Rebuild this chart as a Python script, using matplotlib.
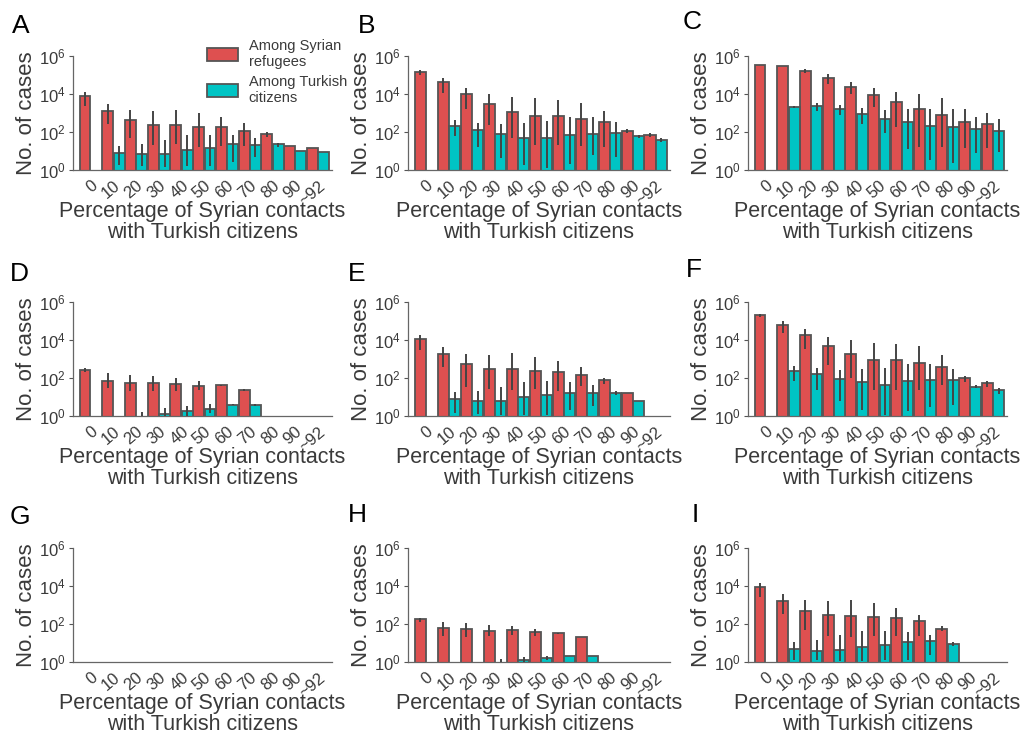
import numpy as np
import matplotlib
matplotlib.use("Agg")
import matplotlib.pyplot as plt
from matplotlib.patches import Patch

plt.rcParams['font.family'] = ['Liberation Sans', 'DejaVu Sans']
plt.rcParams['mathtext.fontset'] = 'custom'
plt.rcParams['mathtext.rm'] = 'Liberation Sans'
plt.rcParams['mathtext.it'] = 'Liberation Sans'

nan = np.nan
categories = ['0', '10', '20', '30', '40', '50', '60', '70', '80', '90', '~92']
series_names = ['Among Syrian\nrefugees', 'Among Turkish\ncitizens']
panel_letters = ['A', 'B', 'C', 'D', 'E', 'F', 'G', 'H', 'I']

# ---- Panel A ----
A_red = [7600, 1300, 410, 230, 240, 190, 190, 110, 74, 19, 14]
A_red_lo = [2240, 263, 48, 21, 24, 17, 19, 19, 54, nan, nan]
A_red_hi = [12300, 3000, 1500, 1300, 1500, 1000, 620, 300, 95, nan, nan]
A_teal = [nan, 7.6, 6.7, 7, 11.5, 14.5, 22, 21, 23, 10, 8.7]
A_teal_lo = [nan, 1.8, 1.6, 1.5, 1.6, 1.6, 2.8, 5.1, 17, nan, nan]
A_teal_hi = [nan, 19, 24, 39, 66, 71, 66, 49, 28, nan, nan]

# ---- Panel B ----
B_red = [1.4e5, 4.2e4, 1.05e4, 3000, 1180, 690, 670, 500, 330, 115, 71]
B_red_lo = [9.5e4, 1.15e4, 1700, 220, 51, 21, 21, 19, 17, 87, 54]
B_red_hi = [1.8e5, 7.1e4, 2.1e4, 1e4, 6800, 5800, 5100, 3400, 1300, 150, 87]
B_teal = [nan, 214, 132, 74, 51, 48, 71, 77, 84, 58, 39]
B_teal_lo = [nan, 58, 17, 4.5, 1.8, 1.2, 2.1, 6.2, 4.7, 46, 29]
B_teal_hi = [nan, 410, 300, 260, 300, 360, 590, 590, 320, 71, 48]

# ---- Panel C ----
C_red = [3.5e5, 3.0e5, 1.7e5, 6.6e4, 2.4e4, 8500, 3800, 1550, 750, 350, 263]
C_red_lo = [nan, nan, 1.25e5, 3.4e4, 9500, 2000, 190, 17, 17, 15, 15]
C_red_hi = [nan, nan, 2.1e5, 1.1e5, 4.1e4, 2e4, 1.3e4, 9500, 5900, 1600, 950]
C_teal = [nan, 2150, 2330, 1630, 850, 500, 325, 208, 177, 138, 117]
C_teal_lo = [nan, 1900, 1300, 780, 250, 85, 12, 3.4, 2.2, 7.6, 9.1]
C_teal_hi = [nan, 2450, 3200, 2600, 1800, 1450, 1550, 1550, 1550, 650, 480]

# ---- Panel D ----
D_red = [270, 73, 53, 53, 47, 38, 42, 23, nan, nan, nan]
D_red_lo = [195, 29, 19.5, 19.5, 19.5, 22, 39, 20, nan, nan, nan]
D_red_hi = [330, 180, 150, 120, 98, 71, 45, 26, nan, nan, nan]
D_teal = [nan, nan, 0.5, 1.28, 1.8, 2.4, 4.0, 3.7, nan, nan, nan]
D_teal_lo = [nan, nan, 0.3, 0.5, 0.5, 1.4, 3.7, 3.3, nan, nan, nan]
D_teal_hi = [nan, nan, 1.7, 2.5, 3.5, 4.2, 4.3, 4.1, nan, nan, nan]

# ---- Panel E ----
E_red = [1.1e4, 1900, 560, 316, 305, 240, 210, 140, 76, 16, nan]
E_red_lo = [3100, 370, 35, 26, 22, 26, 19.5, 38, 49, nan, nan]
E_red_hi = [1.9e4, 4300, 1900, 1550, 2000, 1350, 800, 370, 98, nan, nan]
E_teal = [nan, 7.6, 5.9, 6.2, 10.5, 12.3, 17, 17, 16, 6.2, nan]
E_teal_lo = [nan, 1.5, 1.26, 1.1, 1.1, 1.1, 2.1, 3.5, 12, nan, nan]
E_teal_hi = [nan, 18, 21, 35, 60, 71, 60, 44, 20, nan, nan]

# ---- Panel F ----
F_red = [2.0e5, 6.4e4, 1.8e4, 5000, 1900, 910, 910, 600, 400, 98, 53]
F_red_lo = [1.55e5, 2.3e4, 3300, 460, 98, 22, 23, 22, 44, 65, 35]
F_red_hi = [2.35e5, 1.05e5, 3.8e4, 1.4e4, 9500, 6900, 6200, 4600, 1650, 130, 71]
F_teal = [nan, 245, 160, 87, 58, 43, 68, 76, 74, 35, 22]
F_teal_lo = [nan, 71, 23, 5.8, 2.1, 1.1, 1.8, 3.1, 3.8, 29, 14.5]
F_teal_hi = [nan, 440, 330, 270, 300, 330, 540, 560, 300, 44, 29]

# ---- Panel G (empty) ----
G_red = [nan] * 11
G_red_lo = [nan] * 11
G_red_hi = [nan] * 11
G_teal = [nan] * 11
G_teal_lo = [nan] * 11
G_teal_hi = [nan] * 11

# ---- Panel H ----
H_red = [178, 58, 53, 44, 47, 37, 32, 19.5, nan, nan, nan]
H_red_lo = [135, 22, 19.5, 22, 27, 22, 30, nan, nan, nan, nan]
H_red_hi = [219, 123, 110, 89, 74, 54, 34, nan, nan, nan, nan]
H_teal = [nan, nan, nan, 0.5, 1.22, 1.6, 2.1, 2.05, nan, nan, nan]
H_teal_lo = [nan, nan, nan, 0.3, 1.0, 1.2, nan, nan, nan, nan, nan]
H_teal_hi = [nan, nan, nan, 1.4, 1.75, 2.1, nan, nan, nan, nan, nan]

# ---- Panel I ----
I_red = [8800, 1560, 510, 290, 277, 227, 218, 140, 56, nan, nan]
I_red_lo = [2750, 320, 46, 22, 19.5, 22, 22, 22, 41, nan, nan]
I_red_hi = [1.4e4, 3600, 1800, 1600, 1800, 1250, 720, 300, 74, nan, nan]
I_teal = [nan, 4.6, 3.8, 4.1, 6.1, 8.1, 11.6, 12.6, 9.1, nan, nan]
I_teal_lo = [nan, 1.3, 1.3, 1.07, 1.07, 1.3, 1.3, 2.4, 6.6, nan, nan]
I_teal_hi = [nan, 10.7, 15, 25, 41, 41, 37, 25, 11.2, nan, nan]

panels = [
    (A_red, A_red_lo, A_red_hi, A_teal, A_teal_lo, A_teal_hi),
    (B_red, B_red_lo, B_red_hi, B_teal, B_teal_lo, B_teal_hi),
    (C_red, C_red_lo, C_red_hi, C_teal, C_teal_lo, C_teal_hi),
    (D_red, D_red_lo, D_red_hi, D_teal, D_teal_lo, D_teal_hi),
    (E_red, E_red_lo, E_red_hi, E_teal, E_teal_lo, E_teal_hi),
    (F_red, F_red_lo, F_red_hi, F_teal, F_teal_lo, F_teal_hi),
    (G_red, G_red_lo, G_red_hi, G_teal, G_teal_lo, G_teal_hi),
    (H_red, H_red_lo, H_red_hi, H_teal, H_teal_lo, H_teal_hi),
    (I_red, I_red_lo, I_red_hi, I_teal, I_teal_lo, I_teal_hi),
]

RED = '#DE5050'
TEAL = '#00C4C4'
EDGE = '#555555'
TXT = '#3a3a3a'

W, H = 1033, 740
fig = plt.figure(figsize=(W / 100, H / 100), dpi=100)

col_lr = [(73, 332), (408, 670), (748, 1007)]
row_tb = [(56, 170), (302, 416), (548, 662)]
letter_pos = [(12, 14), (358, 14), (683, 10), (10, 262), (348, 262), (686, 258),
              (10, 505), (348, 503), (692, 503)]

x = np.arange(len(categories))
bw = 0.48

for i, (red, rlo, rhi, teal, tlo, thi) in enumerate(panels):
    r, c = divmod(i, 3)
    l, rr = col_lr[c]
    t, b = row_tb[r]
    ax = fig.add_axes([l / W, 1 - b / H, (rr - l) / W, (b - t) / H])
    red = np.array(red, float); teal = np.array(teal, float)
    rlo = np.array(rlo, float); rhi = np.array(rhi, float)
    tlo = np.array(tlo, float); thi = np.array(thi, float)
    for vals, lo, hi, off, colr in [(red, rlo, rhi, -0.25, RED), (teal, tlo, thi, 0.25, TEAL)]:
        m = ~np.isnan(vals)
        if m.any():
            ax.bar(x[m] + off, vals[m], width=bw, bottom=1e-3, color=colr,
                   edgecolor=EDGE, linewidth=1.3, zorder=2)
        me = ~np.isnan(lo) & ~np.isnan(hi)
        if me.any():
            ax.vlines(x[me] + off, lo[me], hi[me], color='#444444', linewidth=1.4, zorder=3)
    ax.set_yscale('log')
    ax.set_ylim(1, 1e6)
    ax.set_xlim(-0.78, 10.62)
    ax.set_yticks([1, 1e2, 1e4, 1e6])
    ax.set_yticklabels(['10$^{0}$', '10$^{2}$', '10$^{4}$', '10$^{6}$'])
    ax.minorticks_off()
    ax.set_xticks(x)
    ax.set_xticklabels(categories, rotation=40, ha='right', rotation_mode='anchor')
    ax.tick_params(axis='x', length=0, labelsize=12, labelcolor=TXT, pad=6)
    ax.tick_params(axis='y', length=3, width=0.8, color=EDGE, labelsize=12, labelcolor=TXT, pad=2)
    for s in ['top', 'right']:
        ax.spines[s].set_visible(False)
    for s in ['left', 'bottom']:
        ax.spines[s].set_color('#666666')
        ax.spines[s].set_linewidth(0.9)
    ax.set_ylabel('No. of cases', fontsize=16, color=TXT, labelpad=2)
    ax.set_xlabel('Percentage of Syrian contacts\nwith Turkish citizens', fontsize=15.5,
                  color=TXT, labelpad=-5, linespacing=0.98)
    lx, ly = letter_pos[i]
    fig.text(lx / W, 1 - ly / H, panel_letters[i], fontsize=19, va='top', ha='left', color='black')
    if i == 0:
        handles = [Patch(facecolor=RED, edgecolor=EDGE, linewidth=1.3),
                   Patch(facecolor=TEAL, edgecolor=EDGE, linewidth=1.3)]
        fig.legend(handles, series_names, loc='upper left',
                   bbox_to_anchor=(194 / W, 1 - 26 / H), frameon=False,
                   fontsize=10.5, handlelength=2.1, handleheight=1.0,
                   labelspacing=0.4, handletextpad=0.75, labelcolor=TXT)

fig.savefig('out.png', dpi=100)
